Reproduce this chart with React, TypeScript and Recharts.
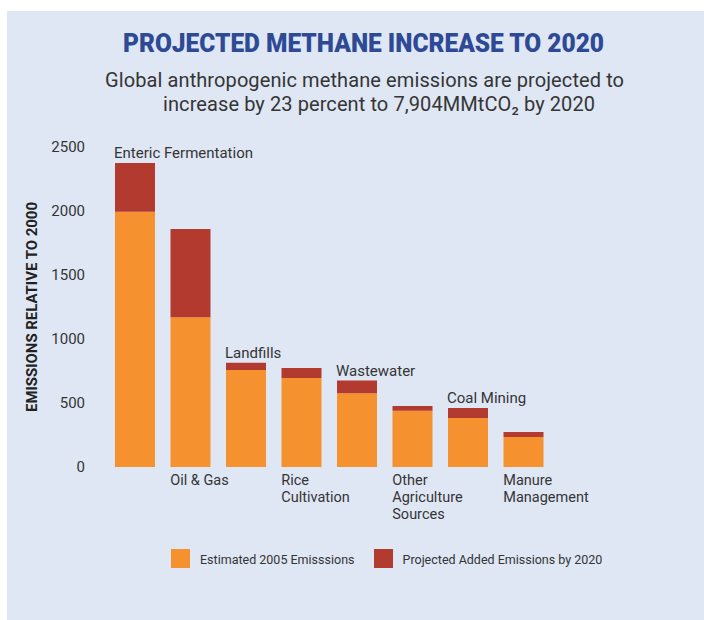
import { BarChart, Bar, XAxis, YAxis, LabelList } from 'recharts'

// sources of methane, '\n' marks where the label wraps
const categories = [
  'Enteric Fermentation',
  'Oil & Gas',
  'Landfills',
  'Rice\nCultivation',
  'Wastewater',
  'Other\nAgriculture\nSources',
  'Coal Mining',
  'Manure\nManagement',
]
const estimated2005 = [1995, 1170, 758, 695, 576, 440, 383, 234]
const projectedAdded = [380, 690, 57, 78, 99, 37, 78, 39]
const yTicks = [0, 500, 1000, 1500, 2000, 2500]

const ORANGE = '#F5912F'
const RED = '#B23A2F'
const TEXT = '#353535'
const FONT = 'Roboto, "Open Sans", sans-serif'

const data = categories.map((name, i) => ({
  name,
  est: estimated2005[i],
  added: projectedAdded[i],
}))

const BAR = 40

// odd categories get their label under the axis, left aligned with the bar
const BelowTick = ({ x, y, payload, index }: any) => {
  if (index % 2 === 0) return null
  const lines = String(payload.value).split('\n')
  const left = x - BAR / 2
  return (
    <g>
      {lines.map((l, i) => (
        <text key={i} x={left} y={y + 18 + i * 17} fontSize={14.5} fill={TEXT} fontFamily={FONT}>
          {l}
        </text>
      ))}
    </g>
  )
}

// even categories get their label above the bar
const AboveLabel = (props: any) => {
  const { x, y, value } = props
  const idx = props.index ?? categories.indexOf(value)
  if (idx % 2 === 1) return null
  return (
    <text x={x - 1} y={y - 5} fontSize={15} fill={TEXT} fontFamily={FONT}>
      {value}
    </text>
  )
}

const YTitle = (props: any) => {
  const vb = props.viewBox || {}
  const cy = (vb.y ?? 147) + (vb.height ?? 320) / 2
  return (
    <text
      x={32}
      y={cy}
      transform={`rotate(-90 32 ${cy})`}
      textAnchor="middle"
      dominantBaseline="central"
      fontSize={14}
      fontWeight={700}
      fill="#222"
      fontFamily={FONT}
      textLength={210}
      lengthAdjust="spacingAndGlyphs"
    >
      EMISSIONS RELATIVE TO 2000
    </text>
  )
}

export default function App() {
  return (
    <div style={{ position: 'absolute', left: 0, top: 0, width: 704, height: 620, background: '#fff', overflow: 'hidden' }}>
      <div style={{ position: 'absolute', left: 7, top: 11, right: 0, bottom: 0, background: '#DFE6F4' }} />

      <svg width={704} height={130} style={{ position: 'absolute', left: 0, top: 0 }}>
        <text
          x={123}
          y={52}
          fontSize={26}
          fontWeight={900}
          fill="#2E4A95"
          fontFamily={FONT}
          textLength={481}
          lengthAdjust="spacingAndGlyphs"
        >
          PROJECTED METHANE INCREASE TO 2020
        </text>
        <text x={105} y={87} fontSize={20} fill={TEXT} fontFamily={FONT} textLength={519} lengthAdjust="spacing">
          Global anthropogenic methane emissions are projected to
        </text>
        <text x={163} y={111} fontSize={20} fill={TEXT} fontFamily={FONT} textLength={432} lengthAdjust="spacing">
          increase by 23 percent to 7,904MMtCO₂ by 2020
        </text>
      </svg>

      <div style={{ position: 'absolute', left: 0, top: 0 }}>
        <BarChart
          width={704}
          height={620}
          data={data}
          margin={{ top: 147, right: 153, bottom: 93, left: 7 }}
          barSize={BAR}
        >
          <XAxis
            dataKey="name"
            axisLine={false}
            tickLine={false}
            tickSize={0}
            tickMargin={0}
            interval={0}
            tick={<BelowTick />}
            height={60}
          />
          <YAxis
            domain={[0, 2500]}
            ticks={yTicks}
            width={100}
            axisLine={false}
            tickLine={false}
            tickSize={0}
            tickMargin={22}
            tick={{ fontSize: 15, fill: TEXT, fontFamily: FONT }}
            label={<YTitle />}
          />
          <Bar dataKey="est" stackId="a" fill={ORANGE} isAnimationActive={false} />
          <Bar dataKey="added" stackId="a" fill={RED} isAnimationActive={false}>
            <LabelList dataKey="name" content={<AboveLabel />} />
          </Bar>
        </BarChart>
      </div>

      <div style={{ position: 'absolute', left: 171, top: 549, display: 'flex', alignItems: 'flex-end', fontFamily: FONT, fontSize: 12.5, color: TEXT }}>
        <span style={{ width: 19, height: 19, background: ORANGE, display: 'inline-block' }} />
        <span style={{ marginLeft: 10, lineHeight: '16px' }}>Estimated 2005 Emisssions</span>
        <span style={{ width: 19, height: 19, background: RED, display: 'inline-block', marginLeft: 19 }} />
        <span style={{ marginLeft: 10, lineHeight: '16px' }}>Projected Added Emissions by 2020</span>
      </div>
    </div>
  )
}
